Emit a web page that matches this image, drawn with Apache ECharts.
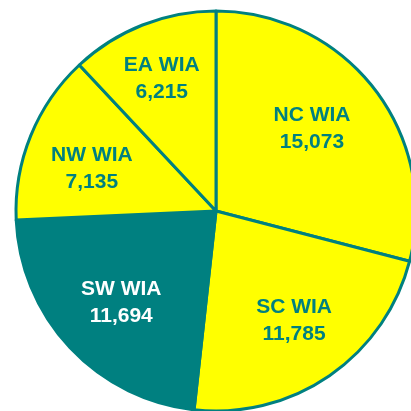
<!DOCTYPE html>
<html>
<head>
<meta charset="utf-8">
<script src="https://cdn.jsdelivr.net/npm/echarts@6/dist/echarts.min.js"></script>
<style>
  html, body { margin: 0; padding: 0; background: #ffffff; }
  #chart { width: 411px; height: 411px; }
</style>
</head>
<body>
<div id="chart"></div>
<script>
// Regions, in clockwise order from the top of the pie
const regions = ['NC WIA', 'SC WIA', 'SW WIA', 'NW WIA', 'EA WIA'];
const counts = [15073, 11785, 11694, 7135, 6215];
const highlighted = ['SW WIA'];

const TEAL = '#008080';
const YELLOW = '#FFFF00';

// small nudges for individual labels, in pixels
const labelNudge = {
  'NC WIA': [-10, 0],
  'EA WIA': [-5, -8],
  'NW WIA': [0, 8],
  'SW WIA': [3, 0],
  'SC WIA': [2, -1]
};

const pieData = regions.map((name, i) => {
  const hot = highlighted.includes(name);
  return {
    name: name,
    value: counts[i],
    itemStyle: { color: hot ? TEAL : YELLOW },
    label: { color: hot ? '#FFFFFF' : TEAL, offset: labelNudge[name] || [0, 0] }
  };
});

const fmt = (p) => p.name + '\n' + p.value.toLocaleString('en-US');

const chart = echarts.init(document.getElementById('chart'));
chart.setOption({
  animation: false,
  series: [
    {
      // the visible pie
      type: 'pie',
      center: [216, 211],
      radius: [0, 200],
      startAngle: 90,
      clockwise: true,
      silent: true,
      label: { show: false },
      labelLine: { show: false },
      itemStyle: { borderColor: TEAL, borderWidth: 3 },
      data: pieData
    },
    {
      // transparent twin, wider, used only to place the labels further out
      type: 'pie',
      center: [216, 211],
      radius: [0, 262],
      startAngle: 90,
      clockwise: true,
      silent: true,
      itemStyle: { color: 'transparent', borderWidth: 0 },
      labelLine: { show: false },
      label: {
        show: true,
        position: 'inside',
        formatter: fmt,
        fontFamily: 'Liberation Sans, Arial, sans-serif',
        fontWeight: 'bold',
        fontSize: 21,
        lineHeight: 27,
        align: 'center'
      },
      data: pieData.map(d => ({ name: d.name, value: d.value, label: d.label }))
    }
  ]
});
</script>
</body>
</html>
